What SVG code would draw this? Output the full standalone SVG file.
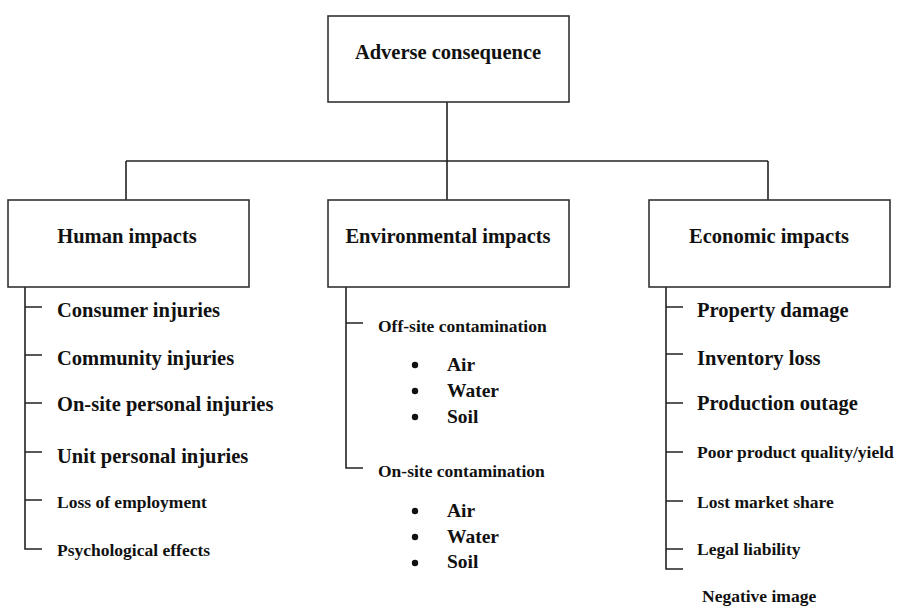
<svg xmlns="http://www.w3.org/2000/svg" width="899" height="608" viewBox="0 0 899 608">
<style>
.box{fill:#fff;stroke:#333;stroke-width:1.6}
.ln{fill:none;stroke:#222;stroke-width:1.6}
text{font-family:"Liberation Serif","Times New Roman",serif;font-weight:bold;fill:#111}
.t{font-size:20.5px;text-anchor:middle}
.L{font-size:20.5px}
.S{font-size:17.5px}
.B{font-size:19.5px}
.dot{fill:#111}
</style>
<rect width="899" height="608" fill="#fff"/>
<g id="connectors">
<path class="ln" d="M447,102 V200 M126,161 H768 M126,161 V200 M768,161 V200"/>
<path class="ln" d="M25,287 V549 H42 M25,307 H42 M25,355 H42 M25,403 H42 M25,452 H42 M25,500 H42"/>
<path class="ln" d="M346,287 V468 H363 M346,323 H363"/>
<path class="ln" d="M666,287 V569 H683 M666,307 H683 M666,354 H683 M666,403 H683 M666,452 H683 M666,501 H683 M666,549 H683"/>
</g>
<g id="adverse">
<rect class="box" x="328" y="16" width="241" height="86"/>
<text class="t" x="448" y="59">Adverse consequence</text>
</g>
<g id="human">
<rect class="box" x="8" y="200" width="241" height="87"/>
<text class="t" x="127" y="243">Human impacts</text>
</g>
<g id="environmental">
<rect class="box" x="328" y="200" width="241" height="87"/>
<text class="t" x="448" y="243">Environmental impacts</text>
</g>
<g id="economic">
<rect class="box" x="649" y="200" width="241" height="87"/>
<text class="t" x="769" y="243">Economic impacts</text>
</g>
<g id="human-items">
<text class="L" x="57" y="317">Consumer injuries</text>
<text class="L" x="57" y="365">Community injuries</text>
<text class="L" x="57" y="411">On-site personal injuries</text>
<text class="L" x="57" y="463">Unit personal injuries</text>
<text class="S" x="57" y="508">Loss of employment</text>
<text class="S" x="57" y="556">Psychological effects</text>
</g>
<g id="env-items">
<text class="S" x="378" y="332">Off-site contamination</text>
<circle class="dot" cx="415" cy="365" r="3.2"/>
<circle class="dot" cx="415" cy="391" r="3.2"/>
<circle class="dot" cx="415" cy="417" r="3.2"/>
<text class="B" x="447" y="371">Air</text>
<text class="B" x="447" y="397">Water</text>
<text class="B" x="447" y="423">Soil</text>
<text class="S" x="378" y="477">On-site contamination</text>
<circle class="dot" cx="415" cy="511" r="3.2"/>
<circle class="dot" cx="415" cy="537" r="3.2"/>
<circle class="dot" cx="415" cy="563" r="3.2"/>
<text class="B" x="447" y="517">Air</text>
<text class="B" x="447" y="543">Water</text>
<text class="B" x="447" y="568">Soil</text>
</g>
<g id="econ-items">
<text class="L" x="697" y="317">Property damage</text>
<text class="L" x="697" y="365">Inventory loss</text>
<text class="L" x="697" y="410">Production outage</text>
<text class="S" x="697" y="458">Poor product quality/yield</text>
<text class="S" x="697" y="508">Lost market share</text>
<text class="S" x="697" y="555">Legal liability</text>
<text class="S" x="702" y="602">Negative image</text>
</g>
</svg>
